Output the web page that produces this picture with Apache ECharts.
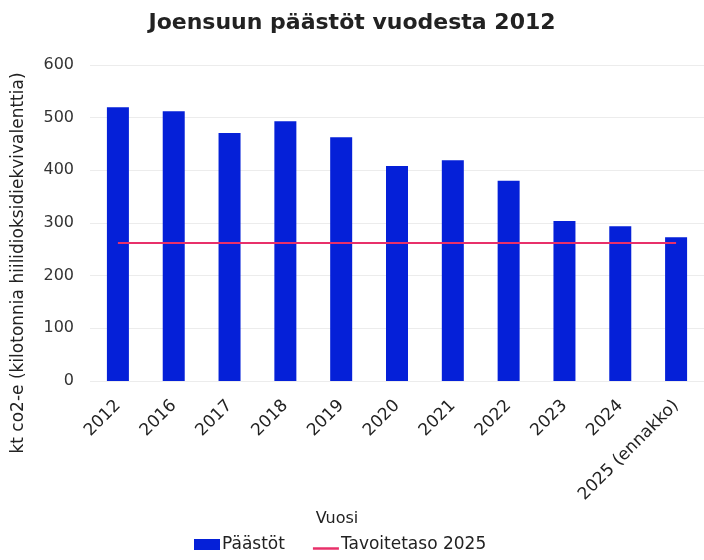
<!DOCTYPE html>
<html><head><meta charset="utf-8">
<script src="https://cdn.jsdelivr.net/npm/echarts@6/dist/echarts.min.js"></script>
<style>html,body{margin:0;padding:0;background:#fff}#c{width:704px;height:560px}</style>
</head><body><div id="c"></div>
<script>
const categories = ['2012','2016','2017','2018','2019','2020','2021','2022','2023','2024','2025 (ennakko)'];
const emissions = [520, 512, 471, 493, 463, 408, 419, 380, 304, 294, 273];
const target = [262, 262, 262, 262, 262, 262, 262, 262, 262, 262, 262];
const yTicks = [0, 100, 200, 300, 400, 500, 600];

const chart = echarts.init(document.getElementById('c'));
const font = 'DejaVu Sans';
chart.setOption({
  animation: false,
  title: {
    text: 'Joensuun päästöt vuodesta 2012',
    left: 'center', top: 7,
    textStyle: {fontFamily: font, fontSize: 22, fontWeight: 'bold', color: '#222'}
  },
  legend: {
    bottom: 2, left: 189, itemGap: 28,
    textStyle: {fontFamily: font, fontSize: 17, color: '#222', padding: [0, 0, 0, -3]},
    data: [
      {name: 'Päästöt', icon: 'rect', itemStyle: {color: '#0520d8'}},
      {name: 'Tavoitetaso 2025', icon: 'path://M0,0 M0,8 L26,8 L26,10.5 L0,10.5 Z', itemStyle: {color: '#e8306a'}}
    ],
    itemWidth: 26, itemHeight: 11
  },
  grid: {left: 90, right: 0, top: 65, bottom: 179, outerBoundsMode: 'none'},
  xAxis: {
    type: 'category', data: categories,
    name: 'Vuosi', nameLocation: 'middle', nameGap: 128,
    nameTextStyle: {fontFamily: font, fontSize: 16, color: '#222', padding: [0, 120, 0, 0]},
    axisLine: {show: false}, axisTick: {show: false},
    axisLabel: {rotate: 45, interval: 0, fontFamily: font, fontSize: 17, color: '#222', margin: 22}
  },
  yAxis: {
    type: 'value', min: yTicks[0], max: yTicks[yTicks.length - 1], interval: 100,
    name: 'kt co2-e (kilotonnia hiilidioksidiekvivalenttia)', nameLocation: 'middle', nameGap: 63,
    nameTextStyle: {fontFamily: font, fontSize: 17, color: '#222', padding: [0, 80, 0, 0]},
    axisLabel: {fontFamily: font, fontSize: 16, color: '#333', margin: 16},
    splitLine: {lineStyle: {color: '#ececec'}}
  },
  series: [
    {name: 'Päästöt', type: 'bar', data: emissions, barWidth: 22, itemStyle: {color: '#0520d8'}},
    {name: 'Tavoitetaso 2025', type: 'line', data: target, symbol: 'none',
     lineStyle: {color: '#e8306a', width: 2}, itemStyle: {color: '#e8306a'}}
  ]
});
</script></body></html>
